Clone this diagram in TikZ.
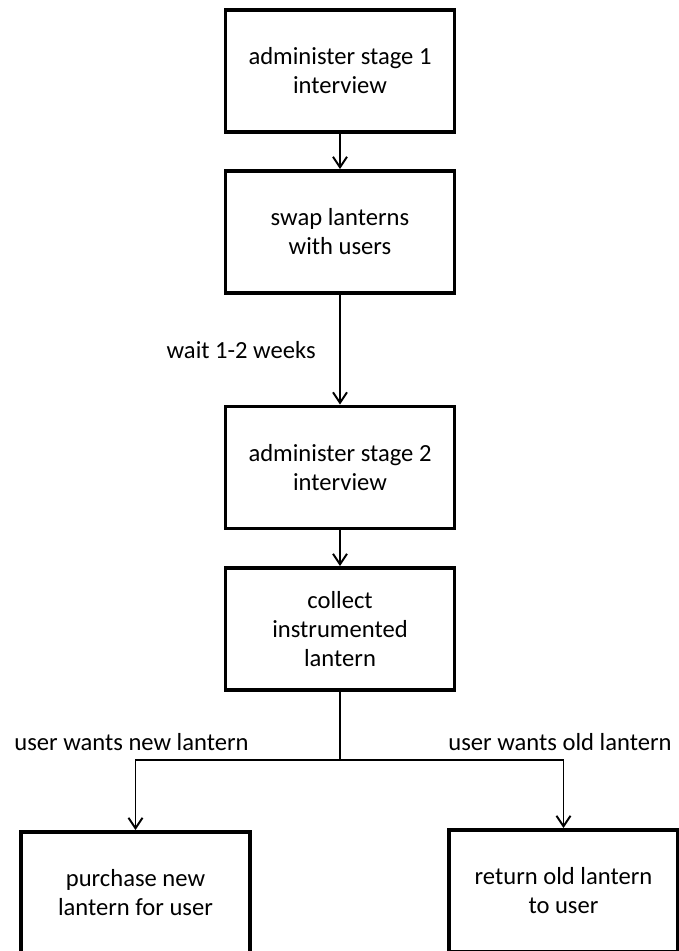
\documentclass[tikz,border=0pt]{standalone}
\usepackage{fontspec}
\setmainfont{Carlito}
\usetikzlibrary{arrows.meta}

\begin{document}
\begin{tikzpicture}[font=\fontsize{14}{16.5}\selectfont]
						\useasboundingbox (0,0) rectangle (13.58,-19.02);
						\clip (0,0) rectangle (13.58,-19.02);
						\begin{scope}[every node/.style={rectangle,draw,line width=2.2pt,align=center,minimum width=4.58cm,minimum height=2.44cm}]
							\node (I1) at (6.8,-1.42) {administer stage 1\\interview};
							\node (S) at (6.8,-4.64) {swap lanterns\\with users};
							\node (I2) at (6.8,-9.35) {administer stage 2\\interview};
							\node (C) at (6.8,-12.58) {collect\\instrumented\\lantern};
							\node (P) at (2.71,-17.86) {purchase new\\lantern for user};
							\node (R) at (11.27,-17.82) {return old lantern\\to user};
						\end{scope}
						
						\coordinate (F) at (6.8,-15.2);
						\node (NL) at (2.63,-14.84) {user wants new lantern};
						\node (OL) at (11.2,-14.84) {user wants old lantern};
						
						\begin{scope}[every edge/.style={draw=black,line width=1.1pt},>={Straight Barb[length=6pt,width=8pt]}]
							\path [->] (I1) edge (S);
							\path [->] (S) edge node [left=0.35cm] (W) {wait 1-2 weeks} (I2);
							\path [->] (I2) edge (C);
							\path (C) edge (F);
							\path [->] (F) edge [to path={-| (\tikztotarget)}] (P);
							\path [->] (F) edge [to path={-| (\tikztotarget)}] (R);
						\end{scope}
					\end{tikzpicture}
\end{document}
